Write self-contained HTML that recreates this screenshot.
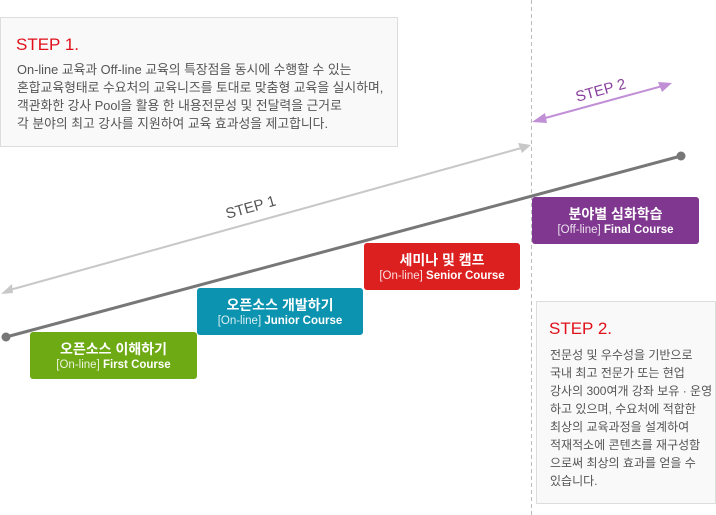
<!DOCTYPE html>
<html><head><meta charset="utf-8"><style>
body{margin:0;width:716px;height:515px;position:relative;background:#fff;font-family:"Liberation Sans","Noto Sans CJK KR",sans-serif;overflow:hidden}
.box{position:absolute;background:#f9f9f9;border:1px solid #ddd;box-sizing:border-box}
.step{color:#e0101a;font-size:17px;position:absolute}
.txt{position:absolute;color:#555;font-size:12px;line-height:18px;white-space:nowrap}
.c{position:absolute;border-radius:3px;color:#fff;text-align:center;box-sizing:border-box}
.c .t{font-size:14px;font-weight:bold;margin-top:8px;line-height:18px}
.c .s{font-size:11.5px;line-height:15px;font-weight:bold}
.c .s span{font-weight:normal;opacity:.85}
</style></head><body>
<div class="box" style="left:0;top:17px;width:398px;height:130px">
<div class="step" style="left:15px;top:17px">STEP 1.</div>
<div class="txt" style="left:16px;top:43px;font-size:12.8px">On-line 교육과 Off-line 교육의 특장점을 동시에 수행할 수 있는<br>혼합교육형태로 수요처의 교육니즈를 토대로 맞춤형 교육을 실시하며,<br>객관화한 강사 Pool을 활용 한 내용전문성 및 전달력을 근거로<br>각 분야의 최고 강사를 지원하여 교육 효과성을 제고합니다.</div>
</div>
<svg style="position:absolute;left:0;top:0" width="716" height="515">
<line x1="531.5" y1="0" x2="531.5" y2="515" stroke="#bbb" stroke-dasharray="4,3"/>
<line x1="6" y1="291" x2="525" y2="147" stroke="#c8c8c8" stroke-width="2"/>
<polygon points="1,294 12,284 13,293" fill="#c8c8c8"/>
<polygon points="531,145 518,143 522,153" fill="#c8c8c8"/>
<line x1="6" y1="337" x2="681" y2="156" stroke="#777" stroke-width="3"/>
<circle cx="6" cy="337" r="4.5" fill="#777"/><circle cx="681" cy="156" r="4.5" fill="#777"/>
<line x1="538" y1="120" x2="666" y2="85" stroke="#c08fd6" stroke-width="2"/>
<polygon points="532,122 545,113 547,123" fill="#c08fd6"/>
<polygon points="672,83 658,82 662,92" fill="#c08fd6"/>
<text x="252" y="212" font-size="15" fill="#555" text-anchor="middle" transform="rotate(-15.5 252 212)" font-family="Liberation Sans,sans-serif">STEP 1</text>
<text x="602" y="95" font-size="15" fill="#8a3f9e" text-anchor="middle" transform="rotate(-15.5 602 95)" font-family="Liberation Sans,sans-serif">STEP 2</text>
</svg>
<div class="c" style="left:30px;top:332px;width:167px;height:47px;background:#6eaa14"><div class="t">오픈소스 이해하기</div><div class="s"><span>[On-line]</span> First Course</div></div>
<div class="c" style="left:197px;top:288px;width:166px;height:47px;background:#0b93b0"><div class="t">오픈소스 개발하기</div><div class="s"><span>[On-line]</span> Junior Course</div></div>
<div class="c" style="left:364px;top:243px;width:156px;height:47px;background:#dc1f1f"><div class="t">세미나 및 캠프</div><div class="s"><span>[On-line]</span> Senior Course</div></div>
<div class="c" style="left:532px;top:197px;width:167px;height:47px;background:#80378f"><div class="t">분야별 심화학습</div><div class="s"><span>[Off-line]</span> Final Course</div></div>
<div class="box" style="left:536px;top:301px;width:180px;height:203px">
<div class="step" style="left:12px;top:17px">STEP 2.</div>
<div class="txt" style="left:13px;top:44px">전문성 및 우수성을 기반으로<br>국내 최고 전문가 또는 현업<br>강사의 300여개 강좌 보유 · 운영<br>하고 있으며, 수요처에 적합한<br>최상의 교육과정을 설계하여<br>적재적소에 콘텐츠를 재구성함<br>으로써 최상의 효과를 얻을 수<br>있습니다.</div>
</div>
</body></html>
